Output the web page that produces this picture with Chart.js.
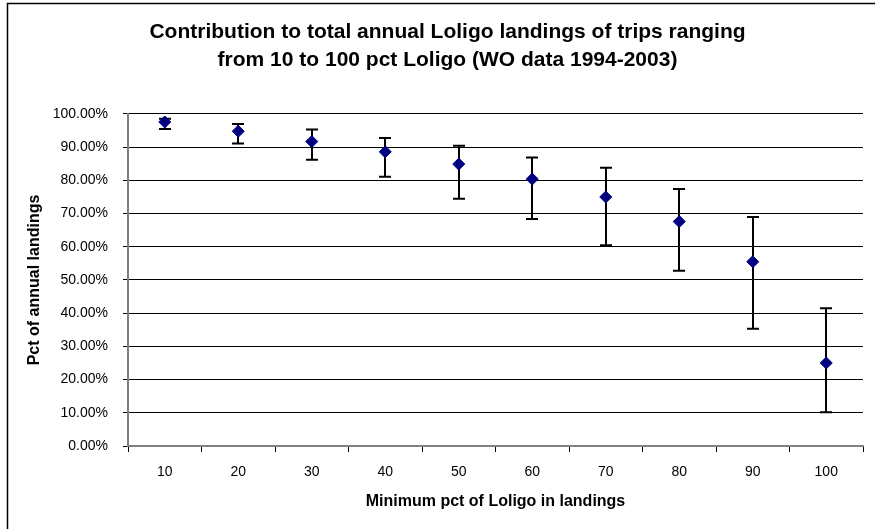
<!DOCTYPE html>
<html>
<head>
<meta charset="utf-8">
<script src="https://cdn.jsdelivr.net/npm/chart.js@4.4.1/dist/chart.umd.min.js"></script>
<style>
  body { margin: 0; background: #fff; }
  canvas { display: block; }
</style>
</head>
<body>
<canvas id="lolChart" width="875" height="529"></canvas>
<script>
// values (percent of annual landings)
const categories = ['10', '20', '30', '40', '50', '60', '70', '80', '90', '100'];
const means = [97.6, 94.8, 91.7, 88.6, 84.9, 80.4, 75.0, 67.6, 55.5, 25.0];
const upper = [98.6, 97.0, 95.3, 92.8, 90.4, 86.9, 83.8, 77.4, 69.0, 41.5];
const lower = [95.5, 91.1, 86.2, 81.1, 74.5, 68.4, 60.5, 52.8, 35.3, 10.2];

Chart.defaults.color = '#000';
Chart.defaults.font.family = "'Liberation Sans', Arial, sans-serif";

// whisker bars, drawn under the diamonds
const errorBars = {
    id: 'errorBars',
    beforeDatasetsDraw(chart) {
        const { ctx, scales: { x, y } } = chart;
        ctx.save();
        ctx.strokeStyle = '#000';
        ctx.lineWidth = 2;
        categories.forEach((c, i) => {
            const px = Math.round(x.getPixelForValue(i));
            const top = y.getPixelForValue(upper[i]);
            const bot = y.getPixelForValue(lower[i]);
            ctx.beginPath();
            ctx.moveTo(px, top);
            ctx.lineTo(px, bot);
            ctx.moveTo(px - 6, top);
            ctx.lineTo(px + 6, top);
            ctx.moveTo(px - 6, bot);
            ctx.lineTo(px + 6, bot);
            ctx.stroke();
        });
        ctx.restore();
    }
};

// outer frame of the excel chart object
const frame = {
    id: 'frame',
    beforeDraw(chart) {
        const ctx = chart.ctx;
        ctx.save();
        ctx.fillStyle = '#fff';
        ctx.fillRect(0, 0, chart.width, chart.height);
        ctx.strokeStyle = '#000';
        ctx.lineWidth = 1.5;
        ctx.beginPath();
        ctx.moveTo(7.5, chart.height);
        ctx.lineTo(7.5, 3.5);
        ctx.lineTo(chart.width, 3.5);
        ctx.stroke();
        ctx.restore();
    }
};

const ctx = document.getElementById('lolChart').getContext('2d');
new Chart(ctx, {
    type: 'line',
    data: {
        labels: categories,
        datasets: [{
            data: means,
            showLine: false,
            pointStyle: 'rectRot',
            pointRadius: 6,
            pointHoverRadius: 6,
            backgroundColor: '#000080',
            borderColor: '#000080',
            borderWidth: 1
        }]
    },
    options: {
        responsive: false,
        animation: false,
        layout: { padding: { left: 32, right: 12, top: 0, bottom: 0 } },
        plugins: {
            legend: { display: false },
            tooltip: { enabled: false },
            title: {
                display: true,
                text: ['Contribution to total annual Loligo landings of trips ranging',
                       'from 10 to 100 pct Loligo (WO data 1994-2003)'],
                font: { size: 21, weight: 'bold', lineHeight: 1.333 },
                padding: { top: 18, bottom: 40 }
            }
        },
        scales: {
            x: {
                offset: true,
                grid: {
                    offset: true,
                    drawOnChartArea: false,
                    color: '#000',
                    tickLength: 6
                },
                border: { color: '#808080', width: 2 },
                ticks: { font: { size: 14 }, padding: 12, maxRotation: 0 },
                title: {
                    display: true,
                    text: 'Minimum pct of Loligo in landings',
                    font: { size: 16, weight: 'bold' },
                    padding: { top: 0, bottom: 18 }
                },
                afterFit(scale) { scale.height = 83; }
            },
            y: {
                min: 0,
                max: 100,
                grid: { color: '#000', tickLength: 5 },
                border: { color: '#808080', width: 2 },
                ticks: {
                    stepSize: 10,
                    padding: 15,
                    font: { size: 14 },
                    callback: v => v.toFixed(2) + '%'
                },
                title: {
                    display: true,
                    text: 'Pct of annual landings',
                    font: { size: 16, weight: 'bold' },
                    padding: { top: -7, bottom: 0 }
                },
                afterFit(scale) { scale.width = 96; }
            }
        }
    },
    plugins: [frame, errorBars]
});
</script>
</body>
</html>
